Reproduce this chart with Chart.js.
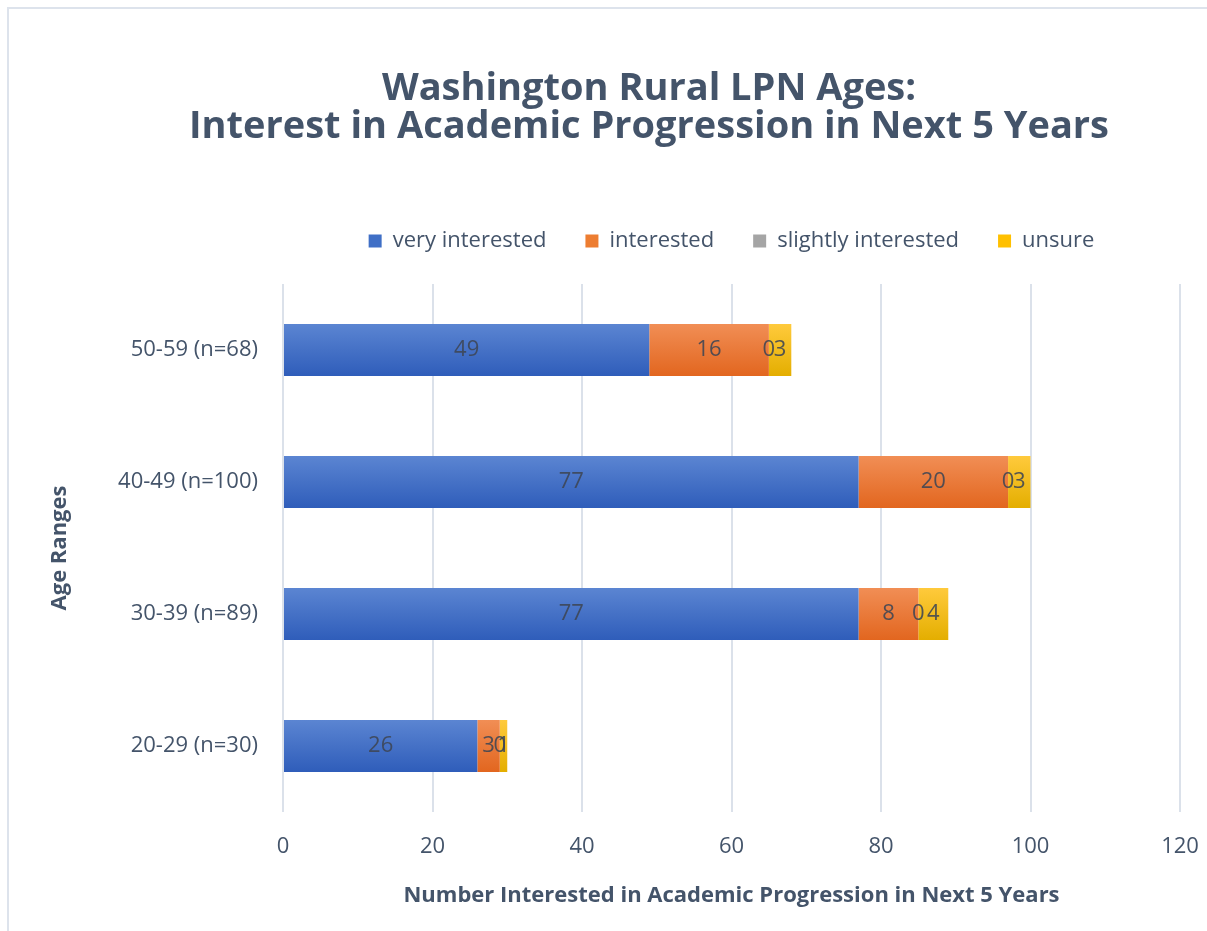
<!DOCTYPE html>
<html>
<head>
<meta charset="utf-8">
<title>Washington Rural LPN Ages</title>
<script src="https://cdn.jsdelivr.net/npm/chart.js@4.4.1/dist/chart.umd.min.js"></script>
<style>
  html, body { margin: 0; padding: 0; background: #fff; overflow: hidden; }
  .frame { position: absolute; left: 7px; top: 7px; width: 1300px; height: 1000px;
           border-left: 2px solid #dde3ec; border-top: 2px solid #dde3ec; }
  #lpn { position: absolute; left: 0; top: 0; }
</style>
</head>
<body>
<div class="frame"></div>
<canvas id="lpn" width="1207" height="931"></canvas>
<script>
////// data //////
const ageRanges = ['50-59 (n=68)', '40-49 (n=100)', '30-39 (n=89)', '20-29 (n=30)'];
const veryInterested = [49, 77, 77, 26];
const interested = [16, 20, 8, 3];
const slightlyInterested = [0, 0, 0, 0];
const unsure = [3, 3, 4, 1];
const xMax = 120;
const xStep = 20;

const slate = '#44546A';
const font = '"Open Sans", "Noto Sans", sans-serif';
const barPct = 0.394;

// vertical gradient per bar, like the Office fill
function barFill(topColor, bottomColor) {
    return function(ctx) {
        const chart = ctx.chart;
        const y = chart.scales.y;
        if (!chart.chartArea || !y || ctx.type !== 'data') return bottomColor;
        const half = (y.bottom - y.top) / ageRanges.length * barPct / 2;
        const cy = y.getPixelForValue(ctx.dataIndex);
        const g = chart.ctx.createLinearGradient(0, cy - half, 0, cy + half);
        g.addColorStop(0, topColor);
        g.addColorStop(1, bottomColor);
        return g;
    };
}

const legendColors = ['#3f6fc6', '#ed7d31', '#a5a5a5', '#ffc000'];

////// value labels in the middle of every segment (zeros too) /////
const segmentLabels = {
    id: 'segmentLabels',
    afterDatasetsDraw(chart) {
        const c = chart.ctx;
        c.save();
        c.font = '22px ' + font;
        c.fillStyle = 'rgba(62,70,84,0.88)';
        c.textAlign = 'center';
        c.textBaseline = 'middle';
        chart.data.datasets.forEach(function(ds, i) {
            chart.getDatasetMeta(i).data.forEach(function(bar, j) {
                const p = bar.getCenterPoint();
                c.fillText(String(ds.data[j]), p.x, p.y);
            });
        });
        c.restore();
    }
};

const data = {
    labels: ageRanges,
    datasets: [
        {
            label: 'very interested',
            data: veryInterested,
            backgroundColor: barFill('#5b85d2', '#2f5dba'),
        },
        {
            label: 'interested',
            data: interested,
            backgroundColor: barFill('#f18e55', '#e2661f'),
        },
        {
            label: 'slightly interested',
            data: slightlyInterested,
            backgroundColor: barFill('#b5b5b5', '#949494'),
        },
        {
            label: 'unsure',
            data: unsure,
            backgroundColor: barFill('#ffca3c', '#e4ae00'),
        }
    ]
};

const config = {
    type: 'bar',
    data: data,
    options: {
        indexAxis: 'y',
        responsive: false,
        animation: false,
        events: [],
        datasets: {
            bar: { categoryPercentage: 1, barPercentage: barPct, borderWidth: 0 }
        },
        layout: { padding: { left: 118, right: 27, top: 40, bottom: 0 } },
        plugins: {
            title: {
                display: true,
                text: ['Washington Rural LPN Ages:', 'Interest in Academic Progression in Next 5 Years'],
                color: slate,
                font: { family: font, size: 38, weight: 'bold', lineHeight: 1.0 },
                padding: { top: 30, bottom: 45 }
            },
            legend: {
                position: 'top',
                fullSize: false,
                labels: {
                    color: slate,
                    font: { family: font, size: 22 },
                    boxWidth: 13,
                    boxHeight: 13,
                    padding: 39,
                    generateLabels(chart) {
                        const items = Chart.defaults.plugins.legend.labels.generateLabels(chart);
                        items.forEach(function(it, i) {
                            it.fillStyle = legendColors[i];
                            it.strokeStyle = legendColors[i];
                            it.lineWidth = 0;
                        });
                        return items;
                    }
                }
            },
            tooltip: { enabled: false }
        },
        scales: {
            x: {
                stacked: true,
                min: 0,
                max: xMax,
                ticks: { stepSize: xStep, color: slate, font: { family: font, size: 22 }, padding: 22 },
                grid: { color: '#dbe1ea', lineWidth: 2, drawTicks: false },
                border: { display: false },
                title: {
                    display: true,
                    text: 'Number Interested in Academic Progression in Next 5 Years',
                    color: slate,
                    font: { family: font, size: 22, weight: 'bold' },
                    padding: { top: 0, bottom: 22 }
                },
                afterFit(scale) {
                    scale.height = 931 - 812;
                    scale.paddingLeft = 0;
                    scale.paddingRight = 0;
                }
            },
            // empty spacer between the legend and the plot, as in the original
            xTop: {
                type: 'linear',
                axis: 'x',
                position: 'top',
                ticks: { display: false },
                grid: { display: false },
                border: { display: false },
                afterFit(scale) { scale.height = 22; }
            },
            y: {
                stacked: true,
                ticks: { color: slate, font: { family: font, size: 22 }, padding: 25 },
                grid: { display: false, drawTicks: false },
                border: { display: false },
                title: {
                    display: true,
                    text: 'Age Ranges',
                    color: slate,
                    font: { family: font, size: 22, weight: 'bold' },
                    padding: { top: -71, bottom: 0 }
                },
                afterFit(scale) { scale.width = 283 - 118; }
            }
        }
    },
    plugins: [segmentLabels]
};

var lpnChart = new Chart(document.getElementById('lpn'), config);
</script>
</body>
</html>
